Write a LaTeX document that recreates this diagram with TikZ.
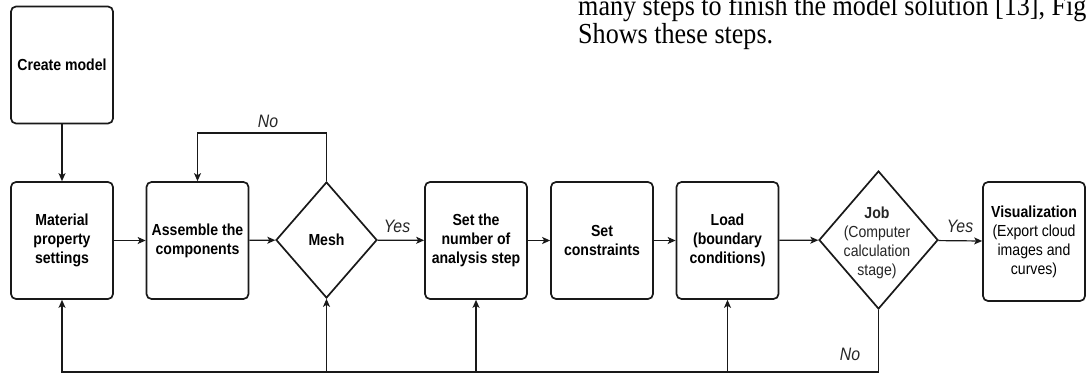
\documentclass[tikz,border=0pt]{standalone}
\usepackage{fontspec}
\setmainfont[FakeStretch=0.9]{Liberation Serif}
\setsansfont[FakeStretch=0.88]{Liberation Sans}
\usetikzlibrary{arrows.meta,shapes.geometric}
\newcommand{\bx}{\sffamily\bfseries\fontsize{16}{19}\selectfont}
\newcommand{\rg}{\sffamily\fontsize{16}{19}\selectfont}
\newcommand{\yn}{\sffamily\itshape\fontsize{18}{20}\selectfont}
\newcommand{\para}{\rmfamily\fontsize{29}{28}\selectfont}

\begin{document}
\begin{tikzpicture}[x=1pt,y=-1pt,
  stepbox/.style={draw=black!90,line width=1.7pt,rounded corners=5pt,inner sep=0pt,
                  minimum width=102pt,minimum height=117pt,align=center,font=\bx},
  decision/.style={draw=black!90,line width=1.7pt,diamond,inner sep=0pt,font=\bx},
  flow/.style={line width=1.2pt,draw=black!90,-{Stealth[length=8pt,width=7pt,inset=2pt]}},
  answer/.style={font=\yn,text=black!85,inner sep=0pt}]
  \useasboundingbox[fill=white] (0,0) rectangle (1086,374);

  \node[stepbox] (create) at (  62, 65.0) {Create model};
  \node[stepbox] (mat)    at (  62,240.5) {Material\\property\\settings};
  \node[stepbox] (asm)    at (197.5,240.5) {Assemble the\\components};
  \node[decision,minimum width=101pt,minimum height=116pt] (mesh) at (326.5,240) {Mesh};
  \node[stepbox] (nstep)  at ( 476,240.5) {Set the\\number of\\analysis step};
  \node[stepbox] (cons)   at ( 602,240.5) {Set\\constraints};
  \node[stepbox] (load)   at (727.5,240.5) {Load\\(boundary\\conditions)};
  \node[decision,minimum width=119pt,minimum height=138pt] (job) at (878.5,240) {};
  \node[align=center,font=\rg,text=black!85,inner sep=0pt] (jobtxt) at (877,242.5)
       {{\bfseries Job}\\(Computer\\calculation\\stage)};
  \node[stepbox,minimum height=119pt,font=\rg] (vis) at (1034,241.5)
       {{\bfseries Visualization}\\(Export cloud\\images and\\curves)};

  \coordinate (top) at (0,133);
  \coordinate (bot) at (0,372);

  \draw[flow] (create) -- (mat);
  \draw[flow] (mat)    -- (asm);
  \draw[flow] (asm)    -- (mesh);
  \draw[flow] (mesh)   -- (nstep);
  \draw[flow] (nstep)  -- (cons);
  \draw[flow] (cons)   -- (load);
  \draw[flow] (load)   -- (job);
  \draw[flow] (job)    -- (vis);
  \draw[flow] (mesh.north) -- (mesh.north |- top) -- (asm.north |- top) -- (asm.north);
  \draw[flow] (job.south) -- (job.south |- bot) -- (mat.south |- bot) -- (mat.south);
  \draw[flow] (mesh.south  |- bot) -- (mesh.south);
  \draw[flow] (nstep.south |- bot) -- (nstep.south);
  \draw[flow] (load.south  |- bot) -- (load.south);

  \node[answer] (no1)  at (268,121) {No};
  \node[answer] (yes1) at (397,226) {Yes};
  \node[answer] (yes2) at (960,226) {Yes};
  \node[answer] (no2)  at (850,354) {No};

  \node[font=\para,anchor=base west,inner sep=0pt] (line1) at (578,15.5)
       {many steps to finish the model solution [13], Fig};
  \node[font=\para,anchor=base west,inner sep=0pt] (line2) at (578,44)
       {Shows these steps.};
\end{tikzpicture}
\end{document}
